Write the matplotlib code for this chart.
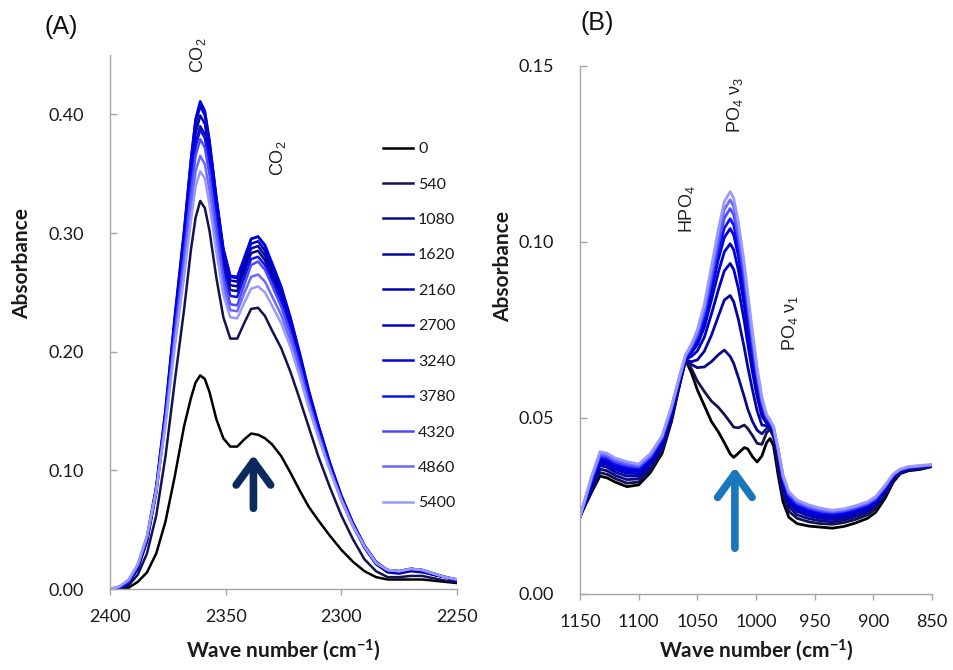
import numpy as np
import matplotlib
matplotlib.use("Agg")
import matplotlib.pyplot as plt
from matplotlib.ticker import FormatStrFormatter

plt.rcParams['font.family'] = ['Lato', 'DejaVu Sans']
plt.rcParams['mathtext.fontset'] = 'custom'
plt.rcParams['mathtext.rm'] = 'Liberation Sans'
plt.rcParams['mathtext.it'] = 'Liberation Sans:italic'
plt.rcParams['mathtext.bf'] = 'Lato:bold'

# exposure times (legend labels)
times = ['0', '540', '1080', '1620', '2160', '2700', '3240', '3780', '4320', '4860', '5400']
colors = ['#000000', '#13134f', '#0b0b88', '#0505a6', '#0000bd', '#0000d2', '#0000e4',
          '#1010f5', '#4b4bfb', '#6a6afc', '#9a9afd']

# ---- (A) CO2 region ----
wn_a = [2400, 2396, 2392, 2388, 2384, 2380, 2376, 2372, 2368, 2365, 2363, 2361, 2359, 2357,
        2354, 2351, 2348, 2345, 2342, 2339, 2336, 2333, 2330, 2326, 2322, 2318, 2314, 2310,
        2305, 2300, 2295, 2290, 2285, 2280, 2275, 2270, 2265, 2260, 2255, 2250]

co2_0 = [0.000, 0.000, 0.001, 0.006, 0.014, 0.030, 0.057, 0.095, 0.137, 0.161, 0.174, 0.180, 0.177, 0.166,
         0.143, 0.127, 0.120, 0.120, 0.126, 0.131, 0.130, 0.127, 0.122, 0.112, 0.098, 0.083, 0.069, 0.058,
         0.045, 0.033, 0.023, 0.015, 0.010, 0.008, 0.008, 0.008, 0.008, 0.007, 0.006, 0.005]
co2_540 = [0.000, 0.000, 0.003, 0.012, 0.030, 0.062, 0.112, 0.175, 0.235, 0.286, 0.313, 0.327, 0.321, 0.302,
           0.262, 0.229, 0.211, 0.211, 0.224, 0.236, 0.237, 0.230, 0.218, 0.203, 0.183, 0.160, 0.136, 0.112,
           0.086, 0.062, 0.042, 0.025, 0.015, 0.010, 0.010, 0.011, 0.011, 0.009, 0.007, 0.006]
co2_1080 = [0.000, 0.001, 0.005, 0.017, 0.040, 0.081, 0.143, 0.217, 0.285, 0.343, 0.375, 0.390, 0.383, 0.359,
            0.314, 0.273, 0.252, 0.251, 0.267, 0.283, 0.285, 0.277, 0.263, 0.244, 0.219, 0.190, 0.159, 0.132,
            0.102, 0.075, 0.053, 0.035, 0.021, 0.014, 0.013, 0.015, 0.014, 0.012, 0.010, 0.007]
co2_1620 = [0.000, 0.001, 0.005, 0.017, 0.041, 0.083, 0.146, 0.222, 0.292, 0.351, 0.384, 0.399, 0.392, 0.367,
            0.321, 0.279, 0.256, 0.255, 0.271, 0.287, 0.289, 0.281, 0.267, 0.247, 0.222, 0.193, 0.162, 0.134,
            0.103, 0.076, 0.054, 0.035, 0.021, 0.015, 0.014, 0.016, 0.015, 0.012, 0.010, 0.007]
co2_2160 = [0.000, 0.001, 0.005, 0.018, 0.042, 0.084, 0.148, 0.226, 0.297, 0.358, 0.392, 0.407, 0.399, 0.374,
            0.327, 0.284, 0.260, 0.259, 0.275, 0.291, 0.293, 0.285, 0.271, 0.251, 0.225, 0.196, 0.164, 0.136,
            0.105, 0.077, 0.055, 0.036, 0.022, 0.015, 0.014, 0.016, 0.015, 0.012, 0.010, 0.007]
co2_2700 = [0.000, 0.001, 0.005, 0.018, 0.042, 0.085, 0.150, 0.228, 0.300, 0.362, 0.396, 0.411, 0.403, 0.378,
            0.330, 0.287, 0.264, 0.263, 0.279, 0.295, 0.297, 0.289, 0.274, 0.254, 0.228, 0.198, 0.166, 0.138,
            0.106, 0.078, 0.055, 0.036, 0.022, 0.015, 0.014, 0.016, 0.015, 0.012, 0.010, 0.007]
co2_3240 = [0.000, 0.001, 0.006, 0.019, 0.044, 0.087, 0.152, 0.230, 0.302, 0.362, 0.395, 0.410, 0.402, 0.377,
            0.329, 0.286, 0.263, 0.262, 0.278, 0.295, 0.297, 0.290, 0.275, 0.255, 0.229, 0.199, 0.167, 0.139,
            0.107, 0.079, 0.056, 0.037, 0.023, 0.016, 0.015, 0.017, 0.016, 0.013, 0.010, 0.008]
co2_3780 = [0.000, 0.001, 0.006, 0.019, 0.043, 0.084, 0.145, 0.218, 0.285, 0.341, 0.373, 0.387, 0.380, 0.356,
            0.310, 0.269, 0.247, 0.246, 0.262, 0.278, 0.280, 0.273, 0.260, 0.242, 0.218, 0.190, 0.160, 0.133,
            0.103, 0.076, 0.054, 0.036, 0.022, 0.016, 0.015, 0.017, 0.016, 0.013, 0.010, 0.008]
co2_4320 = [0.000, 0.002, 0.007, 0.020, 0.044, 0.084, 0.144, 0.215, 0.280, 0.334, 0.365, 0.379, 0.372, 0.349,
            0.303, 0.263, 0.240, 0.239, 0.256, 0.273, 0.276, 0.269, 0.256, 0.238, 0.215, 0.188, 0.158, 0.132,
            0.102, 0.076, 0.054, 0.036, 0.022, 0.016, 0.015, 0.017, 0.016, 0.013, 0.010, 0.008]
co2_4860 = [0.000, 0.002, 0.007, 0.020, 0.044, 0.083, 0.141, 0.209, 0.271, 0.322, 0.352, 0.365, 0.358, 0.336,
            0.293, 0.255, 0.235, 0.234, 0.249, 0.263, 0.265, 0.259, 0.247, 0.231, 0.209, 0.183, 0.155, 0.130,
            0.101, 0.075, 0.053, 0.036, 0.022, 0.016, 0.015, 0.017, 0.016, 0.013, 0.010, 0.008]
co2_5400 = [0.000, 0.002, 0.008, 0.021, 0.045, 0.083, 0.138, 0.204, 0.263, 0.311, 0.339, 0.352, 0.346, 0.324,
            0.284, 0.248, 0.229, 0.228, 0.241, 0.253, 0.255, 0.250, 0.239, 0.224, 0.204, 0.179, 0.152, 0.128,
            0.100, 0.075, 0.053, 0.036, 0.022, 0.016, 0.015, 0.017, 0.016, 0.013, 0.010, 0.008]

# ---- (B) phosphate region ----
wn_b = [1150, 1140, 1133, 1127, 1120, 1110, 1100, 1090, 1080, 1072, 1066, 1060, 1055, 1050, 1044,
        1038, 1032, 1027, 1022, 1019, 1015, 1010, 1007, 1003, 999, 995, 991, 988, 985, 981,
        977, 972, 965, 955, 945, 935, 925, 915, 905, 898, 890, 883, 877, 870, 860, 850]

po4_0 = [0.0220, 0.0290, 0.0335, 0.0330, 0.0318, 0.0305, 0.0310, 0.0345, 0.0400, 0.0490, 0.0580, 0.0665,
         0.0628, 0.0580, 0.0535, 0.0490, 0.0460, 0.0430, 0.0398, 0.0388, 0.0400, 0.0416, 0.0412, 0.0390,
         0.0375, 0.0392, 0.0430, 0.0442, 0.0420, 0.0335, 0.0262, 0.0218, 0.0200, 0.0193, 0.0190, 0.0187,
         0.0192, 0.0202, 0.0215, 0.0232, 0.0272, 0.0318, 0.0342, 0.0350, 0.0354, 0.0362]
po4_540 = [0.0220, 0.0295, 0.0345, 0.0340, 0.0328, 0.0315, 0.0318, 0.0352, 0.0408, 0.0495, 0.0585, 0.0665,
           0.0640, 0.0605, 0.0575, 0.0548, 0.0530, 0.0510, 0.0488, 0.0474, 0.0472, 0.0480, 0.0470, 0.0450,
           0.0428, 0.0425, 0.0458, 0.0468, 0.0445, 0.0360, 0.0282, 0.0235, 0.0215, 0.0205, 0.0200, 0.0198,
           0.0203, 0.0212, 0.0225, 0.0242, 0.0280, 0.0322, 0.0345, 0.0352, 0.0356, 0.0363]
po4_1080 = [0.0220, 0.0300, 0.0355, 0.0350, 0.0337, 0.0325, 0.0327, 0.0360, 0.0415, 0.0500, 0.0590, 0.0665,
            0.0652, 0.0643, 0.0645, 0.0660, 0.0680, 0.0693, 0.0675, 0.0655, 0.0615, 0.0560, 0.0525, 0.0490,
            0.0465, 0.0455, 0.0470, 0.0475, 0.0455, 0.0375, 0.0295, 0.0248, 0.0225, 0.0214, 0.0208, 0.0205,
            0.0210, 0.0220, 0.0232, 0.0250, 0.0287, 0.0326, 0.0347, 0.0354, 0.0358, 0.0364]
po4_1620 = [0.0220, 0.0305, 0.0365, 0.0360, 0.0346, 0.0335, 0.0335, 0.0367, 0.0422, 0.0505, 0.0592, 0.0665,
            0.0660, 0.0665, 0.0690, 0.0735, 0.0790, 0.0835, 0.0848, 0.0830, 0.0780, 0.0700, 0.0645, 0.0580,
            0.0520, 0.0480, 0.0478, 0.0478, 0.0460, 0.0385, 0.0305, 0.0258, 0.0235, 0.0222, 0.0215, 0.0212,
            0.0216, 0.0226, 0.0238, 0.0255, 0.0292, 0.0330, 0.0348, 0.0355, 0.0359, 0.0364]
po4_2160 = [0.0220, 0.0310, 0.0372, 0.0368, 0.0354, 0.0343, 0.0342, 0.0373, 0.0428, 0.0510, 0.0595, 0.0667,
            0.0675, 0.0690, 0.0730, 0.0795, 0.0865, 0.0918, 0.0939, 0.0922, 0.0868, 0.0775, 0.0710, 0.0630,
            0.0560, 0.0505, 0.0485, 0.0480, 0.0462, 0.0392, 0.0312, 0.0265, 0.0242, 0.0228, 0.0220, 0.0217,
            0.0221, 0.0231, 0.0243, 0.0259, 0.0296, 0.0333, 0.0349, 0.0356, 0.0360, 0.0365]
po4_2700 = [0.0220, 0.0315, 0.0378, 0.0374, 0.0360, 0.0350, 0.0348, 0.0378, 0.0433, 0.0515, 0.0598, 0.0670,
            0.0685, 0.0708, 0.0758, 0.0835, 0.0915, 0.0972, 0.0995, 0.0978, 0.0920, 0.0820, 0.0748, 0.0660,
            0.0582, 0.0520, 0.0490, 0.0482, 0.0464, 0.0396, 0.0318, 0.0270, 0.0247, 0.0233, 0.0225, 0.0222,
            0.0226, 0.0235, 0.0247, 0.0262, 0.0299, 0.0335, 0.0350, 0.0357, 0.0361, 0.0365]
po4_3240 = [0.0220, 0.0320, 0.0384, 0.0380, 0.0366, 0.0356, 0.0353, 0.0383, 0.0437, 0.0520, 0.0600, 0.0672,
            0.0692, 0.0720, 0.0778, 0.0862, 0.0952, 0.1013, 0.1038, 0.1020, 0.0960, 0.0855, 0.0778, 0.0683,
            0.0598, 0.0530, 0.0495, 0.0484, 0.0466, 0.0400, 0.0322, 0.0275, 0.0251, 0.0237, 0.0229, 0.0226,
            0.0230, 0.0239, 0.0250, 0.0265, 0.0301, 0.0337, 0.0351, 0.0358, 0.0362, 0.0366]
po4_3780 = [0.0220, 0.0324, 0.0389, 0.0385, 0.0371, 0.0361, 0.0357, 0.0387, 0.0441, 0.0524, 0.0603, 0.0674,
            0.0697, 0.0728, 0.0790, 0.0880, 0.0975, 0.1040, 0.1066, 0.1048, 0.0985, 0.0878, 0.0798, 0.0698,
            0.0608, 0.0537, 0.0498, 0.0486, 0.0468, 0.0403, 0.0326, 0.0279, 0.0255, 0.0241, 0.0233, 0.0229,
            0.0233, 0.0242, 0.0253, 0.0268, 0.0303, 0.0338, 0.0352, 0.0359, 0.0362, 0.0366]
po4_4320 = [0.0220, 0.0328, 0.0394, 0.0390, 0.0376, 0.0366, 0.0361, 0.0391, 0.0444, 0.0527, 0.0605, 0.0676,
            0.0702, 0.0736, 0.0802, 0.0898, 0.0998, 0.1068, 0.1095, 0.1077, 0.1012, 0.0902, 0.0820, 0.0715,
            0.0620, 0.0545, 0.0502, 0.0489, 0.0470, 0.0406, 0.0330, 0.0283, 0.0259, 0.0245, 0.0236, 0.0232,
            0.0236, 0.0245, 0.0256, 0.0271, 0.0305, 0.0339, 0.0353, 0.0360, 0.0363, 0.0366]
po4_4860 = [0.0220, 0.0332, 0.0399, 0.0395, 0.0381, 0.0371, 0.0365, 0.0395, 0.0447, 0.0530, 0.0607, 0.0678,
            0.0706, 0.0743, 0.0813, 0.0914, 0.1018, 0.1092, 0.1120, 0.1101, 0.1035, 0.0922, 0.0838, 0.0730,
            0.0632, 0.0552, 0.0506, 0.0492, 0.0472, 0.0409, 0.0334, 0.0287, 0.0263, 0.0249, 0.0240, 0.0235,
            0.0239, 0.0248, 0.0259, 0.0274, 0.0307, 0.0340, 0.0354, 0.0361, 0.0364, 0.0367]
po4_5400 = [0.0220, 0.0336, 0.0404, 0.0400, 0.0386, 0.0376, 0.0369, 0.0399, 0.0450, 0.0533, 0.0609, 0.0680,
            0.0710, 0.0750, 0.0824, 0.0930, 0.1038, 0.1115, 0.1143, 0.1124, 0.1056, 0.0940, 0.0855, 0.0745,
            0.0643, 0.0560, 0.0510, 0.0495, 0.0475, 0.0412, 0.0338, 0.0291, 0.0267, 0.0253, 0.0244, 0.0238,
            0.0242, 0.0251, 0.0262, 0.0277, 0.0309, 0.0341, 0.0355, 0.0362, 0.0365, 0.0368]

co2_curves = [co2_0, co2_540, co2_1080, co2_1620, co2_2160, co2_2700,
              co2_3240, co2_3780, co2_4320, co2_4860, co2_5400]
po4_curves = [po4_0, po4_540, po4_1080, po4_1620, po4_2160, po4_2700,
              po4_3240, po4_3780, po4_4320, po4_4860, po4_5400]

W, H = 954, 670
fig = plt.figure(figsize=(W / 100, H / 100), dpi=100)
ax_a = fig.add_axes([110 / W, 1 - 589 / H, 347 / W, 534 / H])
ax_b = fig.add_axes([580 / W, 1 - 594 / H, 352 / W, 528 / H])

axis_grey = '#a6a6a6'
txt = '#1a1a1a'


def style_axes(ax):
    for s in ['top', 'right']:
        ax.spines[s].set_visible(False)
    for s in ['left', 'bottom']:
        ax.spines[s].set_color(axis_grey)
        ax.spines[s].set_linewidth(1.0)
    ax.tick_params(axis='y', direction='in', length=5, width=1, color=axis_grey,
                   labelsize=13, labelcolor=txt, pad=19)
    ax.tick_params(axis='x', direction='out', length=4.5, width=1, color=axis_grey,
                   labelsize=13, labelcolor=txt, pad=10)
    ax.yaxis.set_major_formatter(FormatStrFormatter('%.2f'))
    ax.set_xlabel('Wave number (cm$^{\\mathbf{-1}}$)', fontsize=15, fontweight='bold', color=txt)
    ax.set_ylabel('Absorbance', fontsize=15, fontweight='bold', color=txt)


# panel A
for t, y, c in zip(times, co2_curves, colors):
    ax_a.plot(wn_a, y, color=c, lw=1.8, label=t, solid_joinstyle='round')
ax_a.set_xlim(2400, 2250)
ax_a.set_ylim(0, 0.45)
ax_a.set_xticks([2400, 2350, 2300, 2250])
ax_a.set_yticks([0.0, 0.1, 0.2, 0.3, 0.4])
style_axes(ax_a)
ax_a.yaxis.set_label_coords(-0.225, 0.61)
ax_a.xaxis.set_label_coords(0.5, -0.09)

leg = ax_a.legend(loc='upper left', bbox_to_anchor=(383 / W, 1 - 142 / H),
                  bbox_transform=fig.transFigure, frameon=False, fontsize=11.5,
                  handlelength=1.9, handletextpad=0.3, labelspacing=1.33,
                  borderpad=0, borderaxespad=0)
for text in leg.get_texts():
    text.set_color(txt)

ann = dict(rotation=90, ha='center', va='center', fontsize=13, color='#222222',
           family='Liberation Sans')
ax_a.text(2362, 0.450, 'CO$_2$', clip_on=False, **ann)
ax_a.text(2327.5, 0.363, 'CO$_2$', **ann)
ax_a.annotate('', xy=(2338, 0.113), xytext=(2338, 0.068),
              arrowprops=dict(arrowstyle='->,head_length=0.85,head_width=0.62',
                              lw=5.5, color='#0c2a5e', mutation_scale=20,
                              shrinkA=0, shrinkB=0))

# panel B
for t, y, c in zip(times, po4_curves, colors):
    ax_b.plot(wn_b, y, color=c, lw=2.0, solid_joinstyle='round')
ax_b.set_xlim(1150, 850)
ax_b.set_ylim(0, 0.15)
ax_b.set_xticks([1150, 1100, 1050, 1000, 950, 900, 850])
ax_b.set_yticks([0.0, 0.05, 0.10, 0.15])
style_axes(ax_b)
ax_b.yaxis.set_label_coords(-0.19, 0.62)
ax_b.xaxis.set_label_coords(0.5, -0.081)

ax_b.text(1059, 0.1094, 'HPO$_4$', **ann)
ax_b.text(1018, 0.139, 'PO$_4$ ν$_3$', **ann)
ax_b.text(971, 0.077, 'PO$_4$ ν$_1$', **ann)
ax_b.annotate('', xy=(1018, 0.036), xytext=(1018, 0.013),
              arrowprops=dict(arrowstyle='->,head_length=0.85,head_width=0.62',
                              lw=5.5, color='#1a76bd', mutation_scale=20,
                              shrinkA=0, shrinkB=0))

# panel letters
fig.text(45 / W, 1 - 27 / H, '(A)', fontsize=18, family='Liberation Sans', va='center', color='#111111')
fig.text(580 / W, 1 - 23 / H, '(B)', fontsize=18, family='Liberation Sans', va='center', color='#111111')

fig.savefig('out.png', dpi=100)
